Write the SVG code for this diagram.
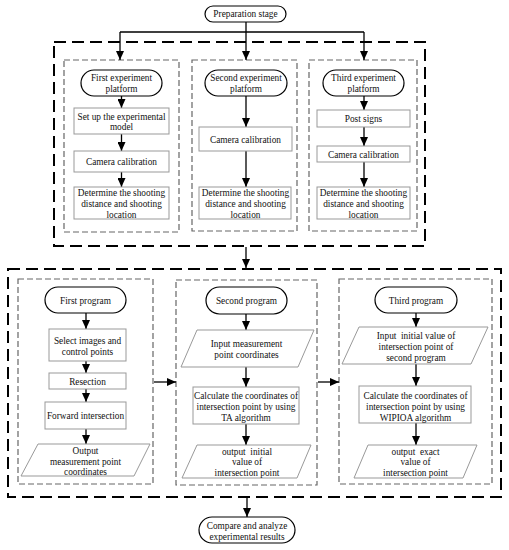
<svg xmlns="http://www.w3.org/2000/svg" width="509" height="550" viewBox="0 0 509 550">
<style>
text{font-family:"Liberation Serif","Times New Roman",serif;font-size:9.3px;fill:#111;text-anchor:middle}
.pre{white-space:pre}
.term{fill:#fff;stroke:#000;stroke-width:1.2}
.box{fill:#fff;stroke:#999;stroke-width:1}
.outer{fill:none;stroke:#000;stroke-width:2;stroke-dasharray:12 6}
.inner{fill:none;stroke:#666;stroke-width:1.2;stroke-dasharray:6 3}
.c{fill:none;stroke:#000;stroke-width:1.3}
</style>
<defs>
<marker id="ah" viewBox="0 0 9 8" refX="9" refY="4" markerWidth="9" markerHeight="8" markerUnits="userSpaceOnUse" orient="auto">
<path d="M0,0 L9,4 L0,8 z" fill="#000"/>
</marker>
</defs>

<g id="containers">
<rect class="outer" x="54" y="42" width="371" height="204"/>
<rect class="inner" x="64" y="60" width="115" height="172"/>
<rect class="inner" x="192" y="60" width="105" height="171"/>
<rect class="inner" x="309" y="60" width="108" height="171"/>
<rect class="outer" x="8" y="269" width="493" height="228"/>
<rect class="inner" x="18" y="279" width="135" height="205"/>
<rect class="inner" x="176" y="280" width="141" height="205"/>
<rect class="inner" x="339" y="279" width="153" height="205"/>
</g>

<g id="connectors">
<path class="c" d="M246,22 V32 M120,32 H364"/>
<path class="c" d="M120,32 V60" marker-end="url(#ah)"/>
<path class="c" d="M246,32 V60" marker-end="url(#ah)"/>
<path class="c" d="M364,32 V60" marker-end="url(#ah)"/>
<path class="c" d="M121.5,96 V108" marker-end="url(#ah)"/>
<path class="c" d="M121.5,134 V151" marker-end="url(#ah)"/>
<path class="c" d="M121.5,172 V187" marker-end="url(#ah)"/>
<path class="c" d="M246,96 V127" marker-end="url(#ah)"/>
<path class="c" d="M246,151 V187" marker-end="url(#ah)"/>
<path class="c" d="M364,96 V110" marker-end="url(#ah)"/>
<path class="c" d="M364,127 V146" marker-end="url(#ah)"/>
<path class="c" d="M364,162 V187" marker-end="url(#ah)"/>
<path class="c" d="M246,247 V268" marker-end="url(#ah)"/>
<path class="c" d="M86,313 V329" marker-end="url(#ah)"/>
<path class="c" d="M86,361 V373" marker-end="url(#ah)"/>
<path class="c" d="M86,389 V402" marker-end="url(#ah)"/>
<path class="c" d="M86,429 V444" marker-end="url(#ah)"/>
<path class="c" d="M246,314 V330" marker-end="url(#ah)"/>
<path class="c" d="M246,367 V387" marker-end="url(#ah)"/>
<path class="c" d="M246,424 V445" marker-end="url(#ah)"/>
<path class="c" d="M416,313 V327" marker-end="url(#ah)"/>
<path class="c" d="M416,364 V386" marker-end="url(#ah)"/>
<path class="c" d="M416,423 V445" marker-end="url(#ah)"/>
<path class="c" d="M154,382 H176" marker-end="url(#ah)"/>
<path class="c" d="M318,382 H339" marker-end="url(#ah)"/>
<path class="c" d="M247,498 V517" marker-end="url(#ah)"/>
</g>

<g id="prep">
<rect class="term" x="205" y="6" width="81" height="16" rx="8"/>
<text x="245.5" y="17.3">Preparation stage</text>
</g>

<g id="first-platform">
<rect class="term" x="81" y="70" width="81" height="26" rx="13"/>
<text x="121.5" y="81">First experiment</text>
<text x="121.5" y="92">platform</text>
</g>
<g id="setup-model">
<rect class="box" x="74" y="108" width="95" height="26"/>
<text x="121.5" y="119.5">Set up the experimental</text>
<text x="121.5" y="130">model</text>
</g>
<g id="camera-1">
<rect class="box" x="74" y="151" width="95" height="21"/>
<text x="121.5" y="165">Camera calibration</text>
</g>
<g id="determine-1">
<rect class="box" x="74" y="187" width="95" height="32"/>
<text x="121.5" y="195.5">Determine the shooting</text>
<text x="121.5" y="206.5">distance and shooting</text>
<text x="121.5" y="217.5">location</text>
</g>

<g id="second-platform">
<rect class="term" x="205" y="70" width="82" height="26" rx="13"/>
<text x="246" y="81">Second experiment</text>
<text x="246" y="92">platform</text>
</g>
<g id="camera-2">
<rect class="box" x="199" y="127" width="93" height="24"/>
<text x="245.5" y="142.5">Camera calibration</text>
</g>
<g id="determine-2">
<rect class="box" x="199" y="187" width="92" height="32"/>
<text x="245.5" y="195.5">Determine the shooting</text>
<text x="245.5" y="206.5">distance and shooting</text>
<text x="245.5" y="217.5">location</text>
</g>

<g id="third-platform">
<rect class="term" x="323" y="70" width="81" height="26" rx="13"/>
<text x="363.5" y="81">Third experiment</text>
<text x="363.5" y="92">platform</text>
</g>
<g id="post-signs">
<rect class="box" x="317" y="110" width="93" height="17"/>
<text x="363.5" y="122">Post signs</text>
</g>
<g id="camera-3">
<rect class="box" x="317" y="146" width="93" height="16"/>
<text x="363.5" y="157.5">Camera calibration</text>
</g>
<g id="determine-3">
<rect class="box" x="317" y="187" width="93" height="32"/>
<text x="363.5" y="195.5">Determine the shooting</text>
<text x="363.5" y="206.5">distance and shooting</text>
<text x="363.5" y="217.5">location</text>
</g>

<g id="first-program">
<rect class="term" x="45" y="287" width="81" height="26" rx="13"/>
<text x="85.5" y="303.5">First program</text>
</g>
<g id="select-images">
<rect class="box" x="49" y="329" width="77" height="32"/>
<text x="87.5" y="343.5">Select images and</text>
<text x="87.5" y="354.5">control points</text>
</g>
<g id="resection">
<rect class="box" x="49" y="373" width="77" height="16"/>
<text x="87.5" y="384.5">Resection</text>
</g>
<g id="forward-intersection">
<rect class="box" x="45" y="402" width="81" height="27"/>
<text x="85.5" y="419">Forward intersection</text>
</g>
<g id="output-measurement">
<polygon class="box" points="38,444 150,444 134,476 21,476"/>
<text x="85.5" y="453.5">Output</text>
<text x="85.5" y="464.5">measurement point</text>
<text x="85.5" y="475">coordinates</text>
</g>

<g id="second-program">
<rect class="term" x="206" y="287" width="81" height="27" rx="13.5"/>
<text x="246.5" y="304">Second program</text>
</g>
<g id="input-measurement">
<polygon class="box" points="197,330 314,330 298,367 181,367"/>
<text x="246.5" y="346.5">Input measurement</text>
<text x="246.5" y="357.5">point coordinates</text>
</g>
<g id="calc-ta">
<rect class="box" x="193" y="387" width="106" height="37"/>
<text x="246" y="398.5">Calculate the coordinates of</text>
<text x="246" y="409.5">intersection point by using</text>
<text x="246" y="420.5">TA algorithm</text>
</g>
<g id="output-initial">
<polygon class="box" points="197,445 311,445 297,478 182,478"/>
<text class="pre" xml:space="preserve" x="247" y="454.5">output  initial</text>
<text x="247" y="465">value of</text>
<text x="247" y="475.5">intersection point</text>
</g>

<g id="third-program">
<rect class="term" x="375" y="287" width="82" height="26" rx="13"/>
<text x="416" y="303.5">Third program</text>
</g>
<g id="input-initial">
<polygon class="box" points="359,327 488,327 471,364 342,364"/>
<text class="pre" xml:space="preserve" x="416" y="338.5">Input  initial value of</text>
<text x="416" y="349.5">intersection point of</text>
<text x="416" y="360.5">second program</text>
</g>
<g id="calc-wipioa">
<rect class="box" x="359" y="386" width="112" height="37"/>
<text x="415.5" y="398.5">Calculate the coordinates of</text>
<text x="415.5" y="409.5">intersection point by using</text>
<text x="415.5" y="420.5">WIPIOA algorithm</text>
</g>
<g id="output-exact">
<polygon class="box" points="368,445 477,445 463,478 354,478"/>
<text class="pre" xml:space="preserve" x="415.5" y="454.5">output  exact</text>
<text x="415.5" y="465">value of</text>
<text x="415.5" y="475.5">intersection point</text>
</g>

<g id="compare">
<rect class="term" x="199" y="517" width="96" height="26" rx="13"/>
<text x="247" y="529">Compare and analyze</text>
<text x="247" y="539.5">experimental results</text>
</g>
</svg>
